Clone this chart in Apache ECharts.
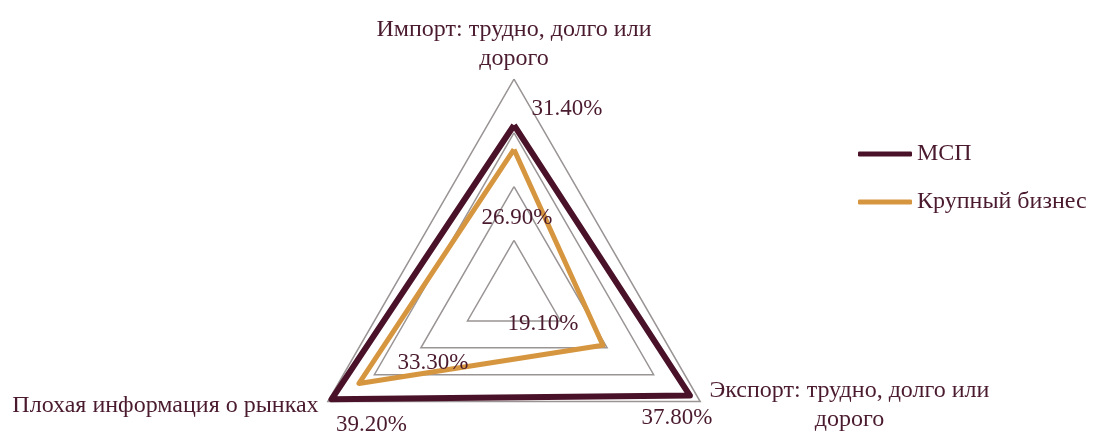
<!DOCTYPE html>
<html>
<head>
<meta charset="utf-8">
<script src="https://cdn.jsdelivr.net/npm/echarts@6/dist/echarts.min.js"></script>
<style>
  html, body { margin: 0; padding: 0; background: #fff; }
  #chart-container { width: 1096px; height: 432px; }
</style>
</head>
<body>
<div id="chart-container"></div>
<script>
var indicators = ['Импорт: трудно, долго или\nдорого', 'Плохая информация о рынках', 'Экспорт: трудно, долго или\nдорого'];
var seriesNames = ['МСП', 'Крупный бизнес'];
var smeValues = [31.4, 39.2, 37.8];
var bigValues = [26.9, 33.3, 19.1];

var textColor = '#4a1a2e';
var colors = ['#4a1229', '#d6963f'];
var font = 'Liberation Serif';

// label offsets from each vertex, per series
var labelOffsets = [
  [[53, -16], [40, 26], [-13, 22]],
  [[3, 69], [74, -21], [-60, -21]]
];

var chartDom = document.getElementById('chart-container');
var myChart = echarts.init(chartDom);

var allValues = [smeValues, bigValues];
var labelItems = [];
allValues.forEach(function (vals, s) {
  vals.forEach(function (v, k) {
    labelItems.push({
      name: 'label-' + s + '-' + k,
      value: vals,
      symbol: 'circle',
      symbolSize: 2,
      itemStyle: { color: 'rgba(0,0,0,0)' },
      lineStyle: { width: 0, opacity: 0 },
      label: {
        show: true,
        position: 'inside',
        offset: labelOffsets[s][k],
        color: textColor,
        fontFamily: font,
        fontSize: 23,
        formatter: function (p) {
          return p.value === v ? v.toFixed(2) + '%' : '';
        }
      }
    });
  });
});

var option = {
  animation: false,
  legend: {
    data: seriesNames,
    orient: 'vertical',
    left: 853,
    top: 137,
    itemWidth: 54,
    itemHeight: 5,
    itemGap: 24,
    icon: 'roundRect',
    textStyle: { color: textColor, fontFamily: font, fontSize: 24 }
  },
  radar: {
    center: [514, 294],
    radius: 215,
    startAngle: 90,
    shape: 'polygon',
    splitNumber: 4,
    nameGap: 6,
    indicator: indicators.map(function (n) {
      return { name: n, min: 0, max: 40 };
    }),
    axisName: {
      color: textColor,
      fontFamily: font,
      fontSize: 24,
      lineHeight: 29,
      padding: [2, 4, 0, 4],
      formatter: function (name) {
        var parts = name.split('\n');
        if (parts.length > 1) {
          return '{a|' + parts[0] + '}\n{b|' + parts[1] + '}';
        }
        return name;
      },
      rich: {
        a: { color: textColor, fontFamily: font, fontSize: 24, lineHeight: 29 },
        b: { color: textColor, fontFamily: font, fontSize: 24, lineHeight: 29, align: 'center' }
      }
    },
    axisLine: { show: false },
    axisTick: { show: false },
    axisLabel: { show: false },
    splitArea: { show: false },
    splitLine: { lineStyle: { color: '#9a9494', width: 1.5 } }
  },
  series: [
    {
      type: 'radar',
      symbol: 'none',
      data: [
        { name: seriesNames[0], value: smeValues, lineStyle: { color: colors[0], width: 6 }, itemStyle: { color: colors[0] } },
        { name: seriesNames[1], value: bigValues, lineStyle: { color: colors[1], width: 5 }, itemStyle: { color: colors[1] } }
      ],
      z: 3
    },
    {
      type: 'radar',
      silent: true,
      data: labelItems,
      z: 4
    }
  ]
};

option && myChart.setOption(option);
</script>
</body>
</html>
